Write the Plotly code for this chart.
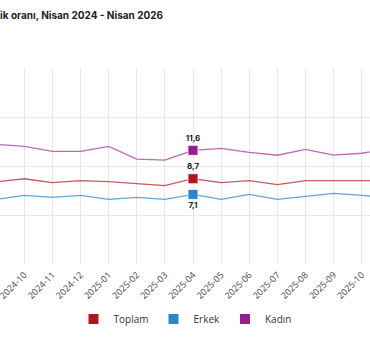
import plotly.graph_objects as go

months = ["2024-09", "2024-10", "2024-11", "2024-12", "2025-01", "2025-02", "2025-03",
          "2025-04", "2025-05", "2025-06", "2025-07", "2025-08", "2025-09", "2025-10", "2025-11"]
toplam = [8.4, 8.7, 8.3, 8.5, 8.4, 8.2, 8.0, 8.7, 8.3, 8.5, 8.1, 8.5, 8.5, 8.5, 8.5]
erkek = [6.6, 7.0, 6.8, 7.0, 6.6, 6.8, 6.6, 7.1, 6.6, 7.1, 6.6, 6.9, 7.2, 7.0, 6.8]
kadin = [12.2, 12.0, 11.5, 11.5, 12.0, 10.7, 10.6, 11.6, 11.8, 11.4, 11.1, 11.7, 11.1, 11.3, 11.8]
highlight_month = "2025-04"
y_ticks = [0, 5, 10, 15, 20]

series = [
    ("Toplam", toplam, "#b3141c", "rgba(190,60,65,0.85)", "top center"),
    ("Erkek", erkek, "#2a86c9", "rgba(70,150,205,0.85)", "bottom center"),
    ("Kadın", kadin, "#9c1a8c", "rgba(175,80,170,0.85)", "top center"),
]

hi = months.index(highlight_month)
fig = go.Figure()
for name, vals, mcol, lcol, tpos in series:
    fig.add_trace(go.Scatter(x=months, y=vals, mode="lines", line=dict(color=lcol, width=1.3),
                             showlegend=False, hoverinfo="skip"))
    fig.add_trace(go.Scatter(x=[months[hi]], y=[vals[hi]], mode="markers+text",
                             marker=dict(symbol="square", size=10, color=mcol,
                                         line=dict(color="white", width=0.8)),
                             text=[f"{vals[hi]:.1f}".replace(".", ",")], textposition=tpos,
                             textfont=dict(family="Inter, Roboto, sans-serif", size=8, color="#222",
                                           weight="bold"),
                             showlegend=False))
for name, vals, mcol, lcol, tpos in series:
    fig.add_trace(go.Scatter(x=[None], y=[None], mode="markers", name=name,
                             marker=dict(symbol="square", size=10, color=mcol)))

fig.update_layout(
    width=370, height=337,
    margin=dict(l=0, r=0, t=68, b=73, autoexpand=False),
    paper_bgcolor="white", plot_bgcolor="white",
    title=dict(text="İşsizlik oranı, Nisan 2024 - Nisan 2026", x=163 / 370, xanchor="right",
               xref="container", y=1 - 15 / 337, yref="container", yanchor="middle",
               font=dict(family="Inter, Roboto, sans-serif", size=10, color="#222", weight="bold")),
    xaxis=dict(type="category", range=[0.136, 13.295], showgrid=True, gridcolor="#e8e8e8",
               gridwidth=1, tickangle=-45, tickfont=dict(family="Open Sans, sans-serif", size=9,
                                                            color="#444"),
               ticklabelstandoff=3,
               showline=False, zeroline=False, automargin=False, ticks=""),
    yaxis=dict(range=[0, 20], tickvals=y_ticks, showgrid=True, gridcolor="#e8e8e8", gridwidth=1,
               showticklabels=False, zeroline=False, showline=False, automargin=False),
    legend=dict(orientation="h", x=0.5, xanchor="center", xref="container",
                y=1 - 319 / 337, yref="container", yanchor="middle",
                font=dict(family="Open Sans, sans-serif", size=10, color="#333"),
                itemwidth=30, tracegroupgap=0),
    showlegend=True,
)
fig.write_html("out.html")
